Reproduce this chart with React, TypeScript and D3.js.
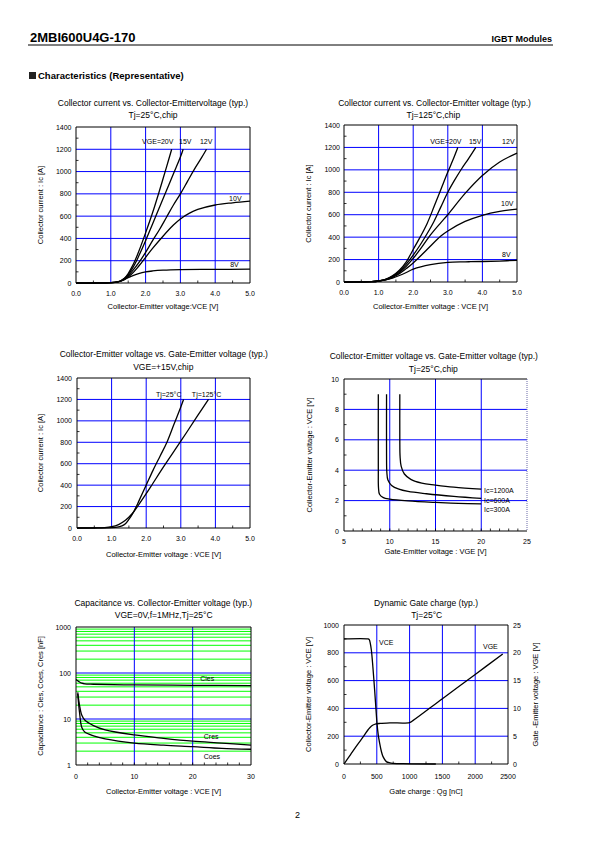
import React from 'react';
import * as d3 from 'd3';

type Pt = [number, number];

// ---------- Chart 1: Ic vs VCE, Tj=25°C ----------
const c1Vge20: Pt[] = [[0,0],[0.5,0],[1.0,3],[1.2,10],[1.3,22],[1.4,45],[1.5,85],[1.6,140],[1.7,205],[1.8,280],[2.0,450],[2.2,630],[2.4,830],[2.6,1040],[2.75,1200]];
const c1Vge15: Pt[] = [[0,0],[0.5,0],[1.0,3],[1.2,10],[1.3,22],[1.4,42],[1.5,75],[1.6,120],[1.7,175],[1.8,240],[2.0,380],[2.2,530],[2.4,680],[2.6,830],[2.8,980],[3.0,1130],[3.08,1200]];
const c1Vge12: Pt[] = [[0,0],[0.5,0],[1.0,3],[1.2,10],[1.3,20],[1.4,38],[1.5,65],[1.6,100],[1.8,180],[2.0,275],[2.2,380],[2.4,480],[2.6,590],[2.8,700],[3.0,800],[3.2,910],[3.4,1020],[3.6,1120],[3.75,1200]];
const c1Vge10: Pt[] = [[0,0],[0.5,0],[1.0,3],[1.2,10],[1.3,18],[1.4,32],[1.6,80],[1.8,150],[2.0,230],[2.2,310],[2.5,420],[2.8,520],[3.0,575],[3.25,625],[3.5,660],[4.0,700],[4.5,720],[5.0,735]];
const c1Vge8: Pt[] = [[0,0],[0.5,0],[1.0,3],[1.2,10],[1.3,18],[1.4,32],[1.5,48],[1.6,62],[1.8,85],[2.0,100],[2.2,108],[2.5,115],[3.0,120],[4.0,122],[5.0,125]];

// ---------- Chart 2: Ic vs VCE, Tj=125°C ----------
const c2Vge20: Pt[] = [[0,0],[0.5,1],[0.8,3],[1.0,9],[1.2,24],[1.4,55],[1.6,105],[1.8,180],[2.0,290],[2.2,400],[2.4,520],[2.6,670],[2.8,825],[3.0,980],[3.15,1090],[3.29,1200]];
const c2Vge15: Pt[] = [[0,0],[0.5,1],[0.8,3],[1.0,9],[1.2,23],[1.4,50],[1.6,95],[1.8,160],[2.0,240],[2.2,330],[2.4,430],[2.6,540],[2.8,670],[3.0,800],[3.2,910],[3.4,1010],[3.6,1100],[3.81,1200]];
const c2Vge12: Pt[] = [[0,0],[0.5,1],[0.8,3],[1.0,9],[1.2,22],[1.4,47],[1.6,85],[1.8,140],[2.0,210],[2.2,290],[2.5,420],[2.8,530],[3.0,600],[3.5,790],[4.0,950],[4.5,1070],[5.0,1150]];
const c2Vge10: Pt[] = [[0,0],[0.5,1],[0.8,3],[1.0,9],[1.2,20],[1.4,42],[1.6,75],[1.8,120],[2.0,170],[2.4,290],[2.8,410],[3.0,455],[3.5,540],[4.0,595],[4.5,630],[5.0,650]];
const c2Vge8: Pt[] = [[0,0],[0.5,1],[0.8,3],[1.0,8],[1.2,18],[1.4,35],[1.6,58],[1.8,85],[2.0,115],[2.5,155],[3.0,175],[3.5,180],[4.0,183],[4.5,187],[5.0,193]];

// ---------- Chart 3: Ic vs VCE, VGE=+15V ----------
const c3Tj25: Pt[] = [[0,0],[0.5,0],[1.0,3],[1.2,10],[1.3,20],[1.4,40],[1.5,80],[1.6,130],[1.7,190],[1.8,260],[2.0,400],[2.2,540],[2.4,670],[2.6,800],[2.8,965],[3.0,1130],[3.08,1200]];
const c3Tj125: Pt[] = [[0,0],[0.5,1],[0.8,4],[1.0,12],[1.2,32],[1.4,72],[1.6,135],[1.8,225],[2.0,320],[2.2,420],[2.5,570],[3.0,810],[3.5,1055],[3.8,1200]];

// ---------- Chart 4: VCE vs VGE, Tj=25°C ----------
const c4Ic1200: Pt[] = [[11.1,9],[11.1,6],[11.13,4.9],[11.25,4.25],[11.6,3.75],[12.3,3.4],[13.5,3.15],[15,3.02],[17,2.88],[20,2.75]];
const c4Ic600: Pt[] = [[9.65,9],[9.65,5],[9.68,3.9],[9.8,3.35],[10.2,3.0],[11,2.75],[12,2.6],[14,2.45],[17,2.28],[20,2.15]];
const c4Ic300: Pt[] = [[8.75,9],[8.75,4],[8.77,2.85],[8.88,2.42],[9.3,2.2],[10,2.1],[12,1.98],[15,1.88],[17.5,1.82],[20,1.78]];

// ---------- Chart 5: Capacitance vs VCE ----------
const c5Cies: Pt[] = [[0,72],[0.5,65],[1,60],[1.5,58],[3,57],[10,55],[20,54],[30,53]];
const c5Cres: Pt[] = [[0.3,38],[0.6,20],[1,12],[1.5,9.5],[3,7.2],[5,5.8],[10,4.5],[15,3.8],[20,3.3],[25,3.0],[30,2.7]];
const c5Coes: Pt[] = [[0.3,35],[0.6,14],[1,6.5],[1.5,5.2],[3,4.3],[5,3.7],[10,3.0],[15,2.7],[20,2.5],[25,2.3],[30,2.2]];

// ---------- Chart 6: Dynamic gate charge ----------
const c6Vce: Pt[] = [[0,900],[365,900],[385,895],[400,870],[417,820],[440,700],[467,532],[485,410],[503,293],[522,210],[544,149],[570,90],[595,53],[645,17],[700,8],[747,5],[900,2],[1400,0]];
const c6Vge: Pt[] = [[0,0],[100,1.7],[200,3.4],[300,5.0],[370,6.2],[420,6.85],[470,7.15],[550,7.3],[700,7.4],[1000,7.45],[1050,7.8],[1500,11.75],[2000,16.1],[2420,19.8]];

// tick values
const ticksVce5 = [0, 1, 2, 3, 4, 5];
const ticksIc1400 = [0, 200, 400, 600, 800, 1000, 1200, 1400];
const ticksVge25 = [5, 10, 15, 20, 25];
const ticksV10 = [0, 2, 4, 6, 8, 10];
const ticksCap = [1, 10, 100, 1000];
const ticksVce30 = [0, 10, 20, 30];
const ticksQg = [0, 500, 1000, 1500, 2000, 2500];
const ticksV1000 = [0, 200, 400, 600, 800, 1000];
const ticksVge2 = [0, 5, 10, 15, 20, 25];

interface Series { data: Pt[]; right?: boolean }
interface Label { text: string; x: number; y: number; right?: boolean }
interface Cfg {
  l: number; r: number; t: number; b: number;
  title: string; subtitle: string; titleX: number; titleY: number; subX: number; subY: number;
  xDomain: [number, number]; yDomain: [number, number]; yLog?: boolean; y2Domain?: [number, number];
  xTicks: number[]; xFmt: (v: number) => string; yTicks: number[]; yFmt: (v: number) => string;
  y2Ticks?: number[];
  xMinor: number[]; yMinor: number[];
  gridX: number[]; gridY: number[]; greenY?: number[];
  xTitle: string; yTitle: string; y2Title?: string;
  yTitleX: number; y2TitleX?: number; xLabelDy: number; xTitleDy: number; yLabelDx: number;
  series: Series[]; labels: Label[]; dottedRight?: boolean;
}

const FONT = '"Liberation Sans", Arial, sans-serif';
const BLUE = '#0000ff';
const GREEN = '#00ff00';

function range(a: number, b: number, s: number) {
  const out: number[] = [];
  for (let v = a; v <= b + 1e-9; v += s) out.push(Math.round(v * 1000) / 1000);
  return out;
}

const f1 = d3.format('.1f');
const fd = d3.format('d');

function Panel({ c }: { c: Cfg }) {
  const x = d3.scaleLinear().domain(c.xDomain).range([c.l, c.r]);
  const y = c.yLog
    ? d3.scaleLog().domain(c.yDomain).range([c.b, c.t])
    : d3.scaleLinear().domain(c.yDomain).range([c.b, c.t]);
  const y2 = c.y2Domain ? d3.scaleLinear().domain(c.y2Domain).range([c.b, c.t]) : null;
  const mkLine = (ys: any) =>
    d3.line<Pt>().x(d => x(d[0])).y(d => ys(d[1])).curve(d3.curveCatmullRom.alpha(0.5));
  const midY = (c.t + c.b) / 2;
  return (
    <g fontFamily={FONT} fill="#000">
      <text x={c.titleX} y={c.titleY} fontSize={8.5} textAnchor="middle">{c.title}</text>
      <text x={c.subX} y={c.subY} fontSize={8.5} textAnchor="middle">{c.subtitle}</text>
      {(c.greenY || []).map((v, i) => (
        <line key={'gy' + i} x1={c.l} x2={c.r} y1={y(v)} y2={y(v)} stroke={GREEN} strokeWidth={1} />
      ))}
      {c.gridX.map((v, i) => (
        <line key={'gx' + i} x1={x(v)} x2={x(v)} y1={c.t} y2={c.b} stroke={BLUE} strokeWidth={1} />
      ))}
      {c.gridY.map((v, i) => (
        <line key={'gyy' + i} x1={c.l} x2={c.r} y1={y(v)} y2={y(v)} stroke={BLUE} strokeWidth={1} />
      ))}
      {/* frame */}
      <line x1={c.l} x2={c.r} y1={c.t} y2={c.t} stroke="#000" strokeWidth={1} />
      <line x1={c.l} x2={c.r} y1={c.b} y2={c.b} stroke="#000" strokeWidth={1} />
      <line x1={c.l} x2={c.l} y1={c.t} y2={c.b} stroke="#000" strokeWidth={1} />
      {c.dottedRight
        ? <line x1={c.r} x2={c.r} y1={c.t} y2={c.b} stroke="#6a6aa8" strokeWidth={1} strokeDasharray="1,1" />
        : <line x1={c.r} x2={c.r} y1={c.t} y2={c.b} stroke="#000" strokeWidth={1} />}
      {/* minor inward ticks */}
      {c.xMinor.map((v, i) => (
        <line key={'xm' + i} x1={x(v)} x2={x(v)} y1={c.b} y2={c.b - 2.5} stroke="#000" strokeWidth={0.8} />
      ))}
      {c.yMinor.map((v, i) => (
        <line key={'ym' + i} x1={c.l} x2={c.l + 2.5} y1={y(v)} y2={y(v)} stroke="#000" strokeWidth={0.8} />
      ))}
      {c.xTicks.map((v, i) => (
        <text key={'xt' + i} x={x(v)} y={c.b + c.xLabelDy} fontSize={7} textAnchor="middle">{c.xFmt(v)}</text>
      ))}
      {c.yTicks.map((v, i) => (
        <text key={'yt' + i} x={c.l - c.yLabelDx} y={y(v) + 2.5} fontSize={7} textAnchor="end">{c.yFmt(v)}</text>
      ))}
      {y2 && (c.y2Ticks || []).map((v, i) => (
        <text key={'y2t' + i} x={c.r + 5} y={y2(v) + 2.5} fontSize={7} textAnchor="start">{fd(v)}</text>
      ))}
      <text x={(c.l + c.r) / 2} y={c.b + c.xTitleDy} fontSize={7.5} textAnchor="middle">{c.xTitle}</text>
      <text transform={`translate(${c.yTitleX},${midY}) rotate(-90)`} fontSize={7.5} textAnchor="middle" dy="0.35em">{c.yTitle}</text>
      {c.y2Title && (
        <text transform={`translate(${c.y2TitleX},${midY}) rotate(-90)`} fontSize={7.5} textAnchor="middle" dy="0.35em">{c.y2Title}</text>
      )}
      {c.series.map((s, i) => (
        <path key={'s' + i} d={mkLine(s.right && y2 ? y2 : y)(s.data) || ''} fill="none" stroke="#000" strokeWidth={1.3} />
      ))}
      {c.labels.map((lb, i) => (
        <text key={'lb' + i} x={x(lb.x)} y={(lb.right && y2 ? y2 : y)(lb.y)} fontSize={7}>{lb.text}</text>
      ))}
    </g>
  );
}

const decadeGreens = [1, 10, 100].flatMap(d => [2, 3, 4, 5, 6, 7, 8, 9].map(k => d * k));

const charts: Cfg[] = [
  {
    l: 76, r: 250, t: 127, b: 283,
    title: 'Collector current vs. Collector-Emittervoltage (typ.)', subtitle: 'Tj=25°C,chip',
    titleX: 153, titleY: 105.5, subX: 153, subY: 118,
    xDomain: [0, 5], yDomain: [0, 1400],
    xTicks: ticksVce5, xFmt: f1, yTicks: ticksIc1400, yFmt: fd,
    xMinor: range(0.5, 4.5, 1), yMinor: range(100, 1300, 200),
    gridX: [1, 2, 3, 4], gridY: [200, 400, 600, 800, 1000, 1200],
    xTitle: 'Collector-Emitter voltage:VCE [V]', yTitle: 'Collector current : Ic [A]',
    yTitleX: 40, xLabelDy: 12.5, xTitleDy: 25.5, yLabelDx: 4.5,
    series: [{ data: c1Vge20 }, { data: c1Vge15 }, { data: c1Vge12 }, { data: c1Vge10 }, { data: c1Vge8 }],
    labels: [
      { text: 'VGE=20V', x: 1.9, y: 1247 }, { text: '15V', x: 2.96, y: 1247 }, { text: '12V', x: 3.56, y: 1247 },
      { text: '10V', x: 4.4, y: 740 }, { text: '8V', x: 4.43, y: 148 },
    ],
  },
  {
    l: 344, r: 517, t: 125, b: 282,
    title: 'Collector current vs. Collector-Emitter voltage (typ.)', subtitle: 'Tj=125°C,chip',
    titleX: 434.5, titleY: 105.5, subX: 433.3, subY: 118,
    xDomain: [0, 5], yDomain: [0, 1400],
    xTicks: ticksVce5, xFmt: f1, yTicks: ticksIc1400, yFmt: fd,
    xMinor: range(0.5, 4.5, 1), yMinor: range(100, 1300, 200),
    gridX: [1, 2, 3, 4], gridY: [200, 400, 600, 800, 1000, 1200],
    xTitle: 'Collector-Emitter voltage : VCE [V]', yTitle: 'Collector current : Ic [A]',
    yTitleX: 308, xLabelDy: 13, xTitleDy: 26.5, yLabelDx: 4,
    series: [{ data: c2Vge20 }, { data: c2Vge15 }, { data: c2Vge12 }, { data: c2Vge10 }, { data: c2Vge8 }],
    labels: [
      { text: 'VGE=20V', x: 2.49, y: 1231 }, { text: '15V', x: 3.61, y: 1231 }, { text: '12V', x: 4.57, y: 1231 },
      { text: '10V', x: 4.54, y: 682 }, { text: '8V', x: 4.57, y: 227 },
    ],
  },
  {
    l: 77, r: 250, t: 378, b: 528,
    title: 'Collector-Emitter voltage vs. Gate-Emitter voltage (typ.)', subtitle: 'VGE=+15V,chip',
    titleX: 163.8, titleY: 357, subX: 163.3, subY: 370,
    xDomain: [0, 5], yDomain: [0, 1400],
    xTicks: ticksVce5, xFmt: f1, yTicks: ticksIc1400, yFmt: fd,
    xMinor: range(0.5, 4.5, 1), yMinor: range(100, 1300, 200),
    gridX: [1, 2, 3, 4], gridY: [200, 400, 600, 800, 1000, 1200],
    xTitle: 'Collector-Emitter voltage : VCE [V]', yTitle: 'Collector current : Ic [A]',
    yTitleX: 40, xLabelDy: 12.5, xTitleDy: 28.5, yLabelDx: 5,
    series: [{ data: c3Tj25 }, { data: c3Tj125 }],
    labels: [{ text: 'Tj=25°C', x: 2.28, y: 1227 }, { text: 'Tj=125°C', x: 3.32, y: 1227 }],
  },
  {
    l: 344, r: 527, t: 379, b: 531,
    title: 'Collector-Emitter voltage vs. Gate-Emitter voltage (typ.)', subtitle: 'Tj=25°C,chip',
    titleX: 433.8, titleY: 359, subX: 433.3, subY: 372,
    xDomain: [5, 25], yDomain: [0, 10],
    xTicks: ticksVge25, xFmt: fd, yTicks: ticksV10, yFmt: fd,
    xMinor: range(6, 24, 1), yMinor: range(1, 9, 2),
    gridX: [10, 15, 20], gridY: [2, 4, 6, 8],
    xTitle: 'Gate-Emitter voltage : VGE [V]', yTitle: 'Collector-Emitter voltage : VCE [V]',
    yTitleX: 309, xLabelDy: 13, xTitleDy: 23, yLabelDx: 5,
    series: [{ data: c4Ic1200 }, { data: c4Ic600 }, { data: c4Ic300 }],
    labels: [
      { text: 'Ic=1200A', x: 20.3, y: 2.5 }, { text: 'Ic=600A', x: 20.3, y: 1.875 }, { text: 'Ic=300A', x: 20.3, y: 1.25 },
    ],
    dottedRight: true,
  },
  {
    l: 76, r: 251, t: 627, b: 765,
    title: 'Capacitance vs. Collector-Emitter voltage (typ.)', subtitle: 'VGE=0V,f=1MHz,Tj=25°C',
    titleX: 163.3, titleY: 606, subX: 163.7, subY: 618,
    xDomain: [0, 30], yDomain: [1, 1000], yLog: true,
    xTicks: ticksVce30, xFmt: fd, yTicks: ticksCap, yFmt: fd,
    xMinor: range(2, 28, 2), yMinor: [],
    gridX: [10, 20], gridY: [10, 100], greenY: decadeGreens,
    xTitle: 'Collector-Emitter voltage : VCE [V]', yTitle: 'Capacitance : Cies, Coes, Cres [nF]',
    yTitleX: 40.7, xLabelDy: 14, xTitleDy: 28.5, yLabelDx: 5,
    series: [{ data: c5Cies }, { data: c5Cres }, { data: c5Coes }],
    labels: [{ text: 'Cies', x: 21.3, y: 68.7 }, { text: 'Cres', x: 21.9, y: 3.67 }, { text: 'Coes', x: 21.9, y: 1.32 }],
  },
  {
    l: 344, r: 508, t: 625, b: 764,
    title: 'Dynamic Gate charge (typ.)', subtitle: 'Tj=25°C',
    titleX: 426, titleY: 606, subX: 426.7, subY: 618,
    xDomain: [0, 2500], yDomain: [0, 1000], y2Domain: [0, 25],
    xTicks: ticksQg, xFmt: fd, yTicks: ticksV1000, yFmt: fd, y2Ticks: ticksVge2,
    xMinor: range(250, 2250, 500), yMinor: range(100, 900, 200),
    gridX: [500, 1000, 1500, 2000], gridY: [200, 400, 600, 800],
    xTitle: 'Gate charge : Qg [nC]', yTitle: 'Collector-Emitter voltage : VCE [V]',
    y2Title: 'Gate -Emitter voltage : VGE [V]',
    yTitleX: 308, y2TitleX: 535, xLabelDy: 15, xTitleDy: 30, yLabelDx: 5,
    series: [{ data: c6Vce }, { data: c6Vge, right: true }],
    labels: [{ text: 'VCE', x: 534, y: 853 }, { text: 'VGE', x: 2119, y: 827 }],
  },
];

export default function App() {
  return (
    <svg width={595} height={842} viewBox="0 0 595 842"
      style={{ position: 'absolute', left: 0, top: 0, background: '#fff' }}>
      <rect x={0} y={0} width={595} height={842} fill="#fff" />
      <g fontFamily={FONT}>
        <text x={30} y={42} fontSize={13} fontWeight="bold">2MBI600U4G-170</text>
        <text x={552} y={42} fontSize={9} fontWeight="bold" textAnchor="end">IGBT Modules</text>
        <line x1={28} x2={553} y1={45} y2={45} stroke="#000" strokeWidth={1} />
        <rect x={29} y={72} width={7} height={7} fill="#222" />
        <text x={38} y={79} fontSize={9.5} fontWeight="bold">Characteristics (Representative)</text>
        <text x={297.5} y={818} fontSize={9} textAnchor="middle">2</text>
      </g>
      {charts.map((c, i) => <Panel key={i} c={c} />)}
    </svg>
  );
}
